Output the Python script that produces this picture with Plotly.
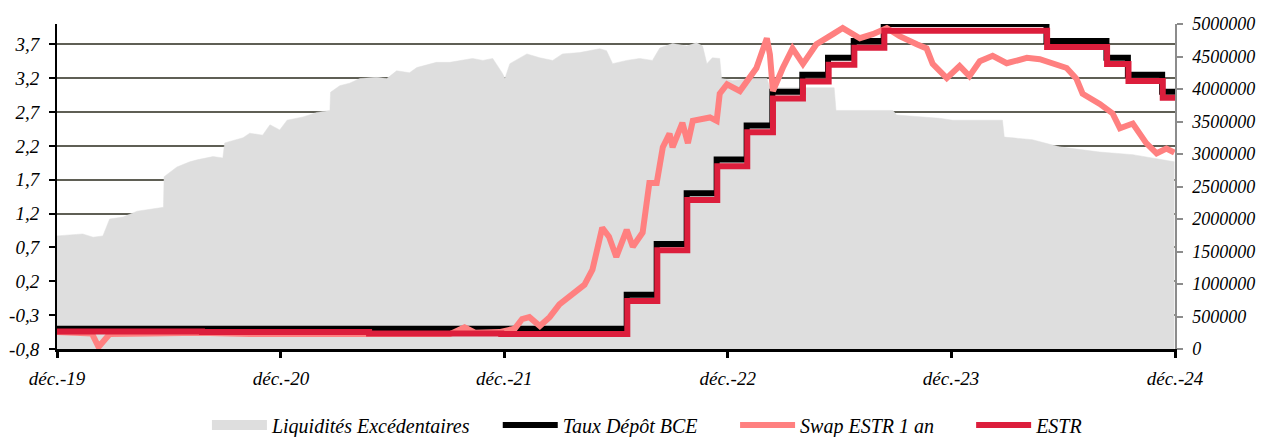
import plotly.graph_objects as go

# ---------------- data ----------------
# Excess liquidity (EUR millions), right axis
liq_dates = ["2020-01-08", "2020-02-19", "2020-03-07", "2020-03-23", "2020-04-03", "2020-04-25",
             "2020-05-18", "2020-06-30", "2020-07-01", "2020-07-22", "2020-08-12", "2020-08-24",
             "2020-09-19", "2020-10-05", "2020-10-08", "2020-11-07", "2020-11-18", "2020-12-09",
             "2020-12-21", "2021-01-06", "2021-01-18", "2021-02-13", "2021-03-08", "2021-03-29",
             "2021-03-30", "2021-04-14", "2021-04-30", "2021-05-17", "2021-06-13", "2021-06-30",
             "2021-07-16", "2021-08-06", "2021-08-18", "2021-09-19", "2021-10-11", "2021-11-17",
             "2021-12-04", "2021-12-20", "2022-01-05", "2022-01-09", "2022-01-17", "2022-02-14",
             "2022-03-07", "2022-03-28", "2022-04-13", "2022-05-11", "2022-06-13", "2022-06-24",
             "2022-07-04", "2022-07-27", "2022-08-17", "2022-09-07", "2022-09-19", "2022-10-10",
             "2022-11-02", "2022-11-18", "2022-11-28", "2022-12-05", "2022-12-14", "2022-12-26",
             "2022-12-29", "2023-01-16", "2023-02-18", "2023-03-13", "2023-03-18", "2023-07-01",
             "2023-07-04", "2023-10-05", "2023-10-11", "2023-12-20", "2024-01-11", "2024-04-01",
             "2024-04-04", "2024-05-20", "2024-07-03", "2024-09-07", "2024-10-31", "2024-12-25",
             "2025-01-07"]
liq_values = [1740000, 1770000, 1720000, 1740000, 2000000, 2030000,
              2120000, 2180000, 2650000, 2800000, 2880000, 2910000,
              2960000, 2940000, 3170000, 3250000, 3320000, 3290000,
              3450000, 3370000, 3520000, 3570000, 3640000, 3670000,
              3950000, 4050000, 4090000, 4160000, 4180000, 4160000,
              4280000, 4250000, 4330000, 4410000, 4410000, 4470000,
              4440000, 4470000, 4240000, 4160000, 4390000, 4540000,
              4480000, 4440000, 4540000, 4560000, 4620000, 4590000,
              4390000, 4440000, 4470000, 4440000, 4630000, 4700000,
              4660000, 4710000, 4660000, 4390000, 4480000, 4470000,
              4160000, 4130000, 4160000, 4160000, 4020000, 4020000,
              3670000, 3670000, 3600000, 3550000, 3520000, 3520000,
              3260000, 3220000, 3110000, 3030000, 2990000, 2910000,
              2880000]

# ECB deposit facility rate (step changes)
dfr_dates = ["2020-01-08", "2022-07-27", "2022-09-14", "2022-11-02", "2022-12-21", "2023-02-08",
             "2023-03-22", "2023-05-10", "2023-06-21", "2023-08-02", "2023-09-20", "2024-06-12",
             "2024-09-18", "2024-10-23", "2024-12-18", "2025-01-08"]
dfr_values = [-0.50, 0.00, 0.75, 1.50, 2.00, 2.50,
              3.00, 3.25, 3.50, 3.75, 4.00, 3.75,
              3.50, 3.25, 3.00, 3.00]

# ESTR
estr_dates = ["2020-01-08", "2020-09-01", "2021-06-01", "2022-01-03", "2022-07-28", "2022-09-15",
              "2022-11-03", "2022-12-22", "2023-02-09", "2023-03-23", "2023-05-11", "2023-06-22",
              "2023-08-03", "2023-09-21", "2024-06-13", "2024-09-19", "2024-10-24", "2024-12-19",
              "2025-01-08"]
estr_values = [-0.54, -0.55, -0.57, -0.58, -0.09, 0.66,
               1.40, 1.90, 2.40, 2.90, 3.15, 3.40,
               3.65, 3.90, 3.66, 3.41, 3.16, 2.91,
               2.91]

# 1-year ESTR swap
swap_dates = ["2020-01-08", "2020-02-14", "2020-03-05", "2020-03-16", "2020-03-24", "2020-04-03",
              "2020-06-08", "2020-08-28", "2020-11-18", "2021-02-08", "2021-05-01", "2021-07-21",
              "2021-10-11", "2021-11-04", "2021-11-21", "2021-12-31", "2022-01-25", "2022-02-06",
              "2022-02-18", "2022-03-07", "2022-03-23", "2022-04-08", "2022-05-03", "2022-05-19",
              "2022-06-01", "2022-06-09", "2022-06-17", "2022-06-28", "2022-07-10", "2022-07-27",
              "2022-08-06", "2022-08-22", "2022-09-02", "2022-09-14", "2022-09-24", "2022-10-05",
              "2022-10-10", "2022-10-26", "2022-11-04", "2022-11-12", "2022-12-10", "2022-12-21",
              "2022-12-26", "2023-01-07", "2023-01-28", "2023-02-24", "2023-03-13", "2023-03-18",
              "2023-03-23", "2023-04-08", "2023-04-24", "2023-05-11", "2023-06-02", "2023-06-29",
              "2023-07-15", "2023-08-12", "2023-09-02", "2023-09-25", "2023-10-16", "2023-11-13",
              "2023-11-29", "2023-12-09", "2024-01-01", "2024-01-22", "2024-02-07", "2024-02-24",
              "2024-03-16", "2024-04-08", "2024-05-11", "2024-06-01", "2024-06-22", "2024-07-15",
              "2024-07-31", "2024-08-10", "2024-09-07", "2024-09-28", "2024-10-10", "2024-10-31",
              "2024-11-22", "2024-12-09", "2024-12-25", "2025-01-07"]
swap_values = [-0.55, -0.56, -0.57, -0.77, -0.68, -0.58,
               -0.57, -0.56, -0.58, -0.58, -0.59, -0.60,
               -0.58, -0.48, -0.56, -0.55, -0.50, -0.36,
               -0.33, -0.46, -0.33, -0.14, 0.05, 0.15,
               0.37, 0.67, 0.99, 0.86, 0.56, 0.96,
               0.71, 0.92, 1.65, 1.65, 2.18, 2.38,
               2.18, 2.54, 2.24, 2.57, 2.62, 2.57,
               2.97, 3.11, 3.01, 3.35, 3.79, 3.55,
               3.01, 3.35, 3.64, 3.41, 3.70, 3.85,
               3.94, 3.79, 3.85, 3.94, 3.82, 3.70,
               3.64, 3.41, 3.20, 3.38, 3.23, 3.45,
               3.53, 3.42, 3.50, 3.48, 3.42, 3.35,
               3.19, 2.97, 2.82, 2.68, 2.46, 2.53,
               2.24, 2.09, 2.16, 2.10]

# axes
x_tick_dates = ["2020-01-08", "2021-01-08", "2022-01-08", "2023-01-08", "2024-01-08", "2025-01-08"]
x_tick_labels = ["déc.-19", "déc.-20", "déc.-21", "déc.-22", "déc.-23", "déc.-24"]
left_ticks = [-0.8, -0.3, 0.2, 0.7, 1.2, 1.7, 2.2, 2.7, 3.2, 3.7]
left_labels = ["-0,8", "-0,3", "0,2", "0,7", "1,2", "1,7", "2,2", "2,7", "3,2", "3,7"]
right_ticks = [0, 500000, 1000000, 1500000, 2000000, 2500000, 3000000, 3500000, 4000000, 4500000, 5000000]
right_labels = [str(v) for v in right_ticks]

names = ["Liquidités Excédentaires", "Taux Dépôt BCE", "Swap ESTR 1 an", "ESTR"]

# ---------------- style ----------------
GRAY = "#DEDEDE"
BLACK = "#000000"
PINK = "#FF8080"
RED = "#DC1E3C"
FAMILY = "'Liberation Serif', 'Times New Roman', Times, serif"
FONT = dict(family=FAMILY, size=19, color="#000000", style="italic")
RFONT = dict(family=FAMILY, size=18, color="#000000", style="italic")
LEG_FONT = dict(family=FAMILY, size=20, color="#000000", style="italic")

fig = go.Figure()

fig.add_trace(go.Scatter(x=liq_dates, y=liq_values, mode="lines", fill="tozeroy",
                         fillcolor=GRAY, line=dict(color=GRAY, width=0.5),
                         name=names[0], yaxis="y", showlegend=False, hoverinfo="skip"))
# legend proxy for the area series
fig.add_trace(go.Scatter(x=[None], y=[None], mode="lines", line=dict(color=GRAY, width=18),
                         name=names[0], yaxis="y", legend="legend"))

fig.add_trace(go.Scatter(x=dfr_dates, y=dfr_values, mode="lines",
                         line=dict(color=BLACK, width=6, shape="hv"),
                         name=names[1], yaxis="y2", legend="legend2"))
fig.add_trace(go.Scatter(x=swap_dates, y=swap_values, mode="lines", line=dict(color=PINK, width=6),
                         name=names[2], yaxis="y2", legend="legend3"))
fig.add_trace(go.Scatter(x=estr_dates, y=estr_values, mode="lines",
                         line=dict(color=RED, width=6, shape="hv"),
                         name=names[3], yaxis="y2", legend="legend4"))

# the page body has an 8px default margin, so the figure is sized to the remaining window
W, H = 1259, 429


def leg(xpos):
    return dict(orientation="h", xref="container", yref="container", x=xpos, xanchor="left",
                y=0.028, yanchor="middle", font=LEG_FONT, itemwidth=55,
                bgcolor="rgba(0,0,0,0)")


fig.update_layout(
    width=W, height=H,
    margin=dict(l=49, r=92, t=16, b=88, autoexpand=False),
    paper_bgcolor="white", plot_bgcolor="white",
    font=FONT,
    xaxis=dict(type="date", range=[x_tick_dates[0], x_tick_dates[-1]],
               tickmode="array", tickvals=x_tick_dates, ticktext=x_tick_labels,
               showgrid=False, zeroline=False, showline=True, linecolor=BLACK, linewidth=3,
               ticks="outside", ticklen=6, tickwidth=3, tickcolor=BLACK, tickfont=FONT,
               ticklabelstandoff=4, automargin=False),
    yaxis=dict(side="right", range=[0, 5000000], tickmode="array", tickvals=right_ticks,
               ticktext=right_labels, showgrid=False, zeroline=False, showline=True,
               linecolor="#8c8c8c", linewidth=1.5, ticks="outside", ticklen=6, tickwidth=1.5,
               tickcolor="#8c8c8c", tickfont=RFONT, ticklabelstandoff=6, automargin=False),
    yaxis2=dict(overlaying="y", side="left", range=[-0.8, 4.0], tickmode="array",
                tickvals=left_ticks, ticktext=left_labels, showgrid=True, gridcolor="#5f5f55",
                gridwidth=1.5, zeroline=False, showline=True, linecolor=BLACK, linewidth=2,
                ticks="outside", ticklen=6, tickwidth=2, tickcolor=BLACK, tickfont=FONT,
                ticklabelstandoff=6, automargin=False),
    legend=leg(0.158),
    legend2=leg(0.389),
    legend3=leg(0.5775),
    legend4=leg(0.765),
    showlegend=True,
)

fig.write_html("out.html")
